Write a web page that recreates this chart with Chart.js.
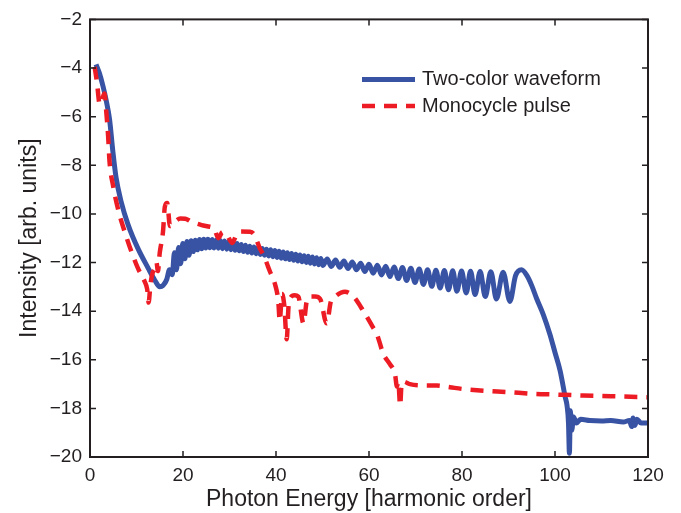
<!DOCTYPE html>
<html>
<head>
<meta charset="utf-8">
<script src="https://cdn.jsdelivr.net/npm/chart.js@4.4.1/dist/chart.umd.min.js"></script>
<style>
  html, body { margin: 0; padding: 0; background: #fff; }
  #wrap { width: 681px; height: 513px; position: relative; }
</style>
</head>
<body>
<div id="wrap"><canvas id="hhgChart"></canvas></div>
<script>
// ------ data ------ //
var seriesNames = ['Two-color waveform', 'Monocycle pulse']

var xTicks = [0, 20, 40, 60, 80, 100, 120]
var yTicks = [-20, -18, -16, -14, -12, -10, -8, -6, -4, -2]

// two-color waveform (blue, solid)
var blueX = [1.3, 2.0, 2.8, 3.5, 4.2, 4.9, 5.6, 6.7, 8.2, 10.3, 12.5, 14.0, 15.0, 15.7, 16.5, 17.1,
	17.7, 18.15, 18.6, 19.05, 19.5, 19.95, 20.4, 20.85, 21.3, 21.75, 22.2, 22.65, 23.1, 23.55, 24.0, 24.45,
	24.9, 25.35, 25.8, 26.25, 26.7, 27.15, 27.6, 28.05, 28.5, 28.95, 29.4, 29.85, 30.3, 30.75, 31.2, 31.65,
	32.1, 32.55, 33.0, 33.45, 33.9, 34.35, 34.8, 35.25, 35.7, 36.15, 36.6, 37.05, 37.5, 37.95, 38.4, 38.85,
	39.3, 39.75, 40.2, 40.65, 41.1, 41.55, 42.0, 42.45, 42.9, 43.35, 43.8, 44.25, 44.7, 45.15, 45.6, 46.05,
	46.5, 46.95, 47.4, 47.85, 48.3, 48.75, 49.2, 49.65, 50.1,
	51.0, 51.9, 52.8, 53.7, 54.6, 55.5, 56.4, 57.3, 58.2, 59.1, 60.0,
	60.9, 61.8, 62.7, 63.6, 64.5, 65.4, 66.3, 67.2, 68.1, 69.0, 69.9, 70.8, 71.7, 72.6, 73.5, 74.4,
	75.3, 76.2, 77.1, 78.0, 78.9, 79.9, 80.9, 81.85, 82.8, 83.9, 85.0, 86.2, 87.4, 88.85, 90.3, 91.5,
	92.8, 94.0, 95.0, 96.0, 97.5, 98.9, 100.0, 101.1, 102.2, 102.6, 102.9, 103.1, 103.3, 103.6, 104.0, 104.6,
	105.5, 107.5, 110.0, 112.0, 114.7, 116.0, 116.5, 116.8, 117.2, 117.6, 118.5, 120.0]
var blueY = [-3.85, -4.2, -4.75, -5.35, -6.1, -7.4, -8.5, -9.5, -10.45, -11.42, -12.23, -12.75, -13.0, -12.95, -12.7, -12.3,
	-12.5, -11.6, -12.3, -11.38, -12.05, -11.22, -11.85, -11.14, -11.7, -11.1, -11.55, -11.08, -11.48, -11.05, -11.43, -11.04,
	-11.4, -11.04, -11.39, -11.05, -11.4, -11.07, -11.41, -11.09, -11.43, -11.12, -11.45, -11.15, -11.47, -11.18, -11.5, -11.22,
	-11.52, -11.26, -11.55, -11.29, -11.58, -11.33, -11.61, -11.36, -11.64, -11.39, -11.67, -11.42, -11.7, -11.45, -11.73, -11.48,
	-11.76, -11.51, -11.79, -11.54, -11.82, -11.57, -11.85, -11.6, -11.88, -11.63, -11.91, -11.66, -11.94, -11.69, -11.97, -11.72,
	-12.0, -11.74, -12.03, -11.77, -12.06, -11.8, -12.09, -11.83, -12.12,
	-11.86, -12.16, -11.9, -12.2, -11.94, -12.25, -11.98, -12.3, -12.03, -12.37, -12.07,
	-12.44, -12.11, -12.51, -12.15, -12.58, -12.18, -12.66, -12.21, -12.74, -12.24, -12.82, -12.27, -12.9, -12.3, -12.98, -12.32,
	-13.05, -12.33, -13.12, -12.34, -13.18, -12.35, -13.25, -12.36, -13.32, -12.37, -13.4, -12.38, -13.5, -12.4, -13.6, -12.55,
	-12.3, -12.55, -12.95, -13.46, -14.15, -14.95, -15.7, -16.45, -17.54, -17.9, -18.6, -19.85, -18.1, -18.9, -18.35, -18.6,
	-18.45, -18.5, -18.52, -18.5, -18.56, -18.5, -18.75, -18.4, -18.7, -18.45, -18.6, -18.6]

// monocycle pulse (red, dashed)
var redX = [1.0, 1.5, 2.1, 2.6, 3.1, 3.5, 3.9, 4.2, 4.95, 6.0, 7.45, 8.9, 10.3, 11.75, 12.3, 12.6,
	13.0, 13.5, 13.9, 14.3, 14.6, 15.0, 15.7, 16.1, 16.6, 17.2, 18.2, 19.4, 20.5, 21.9, 24.0, 25.8,
	26.7, 27.6, 28.5, 29.4, 30.6, 31.5, 32.5, 34.4, 35.3, 36.6, 37.3, 38.7, 39.8, 40.5, 40.8, 41.3,
	41.8, 42.3, 42.7, 43.1, 44.0, 44.8, 45.9, 46.6, 47.3, 48.4, 49.5, 50.9, 51.8, 52.7, 54.8, 56.6,
	58.8, 60.9, 61.7, 63.1, 64.5, 65.6, 66.0, 66.3, 66.7, 67.0, 67.4, 68.8, 71.0, 74.6, 77.4, 80.0,
	84.6, 90.0, 95.3, 100.0, 106.0, 112.0, 120.0]
var redY = [-3.95, -4.6, -5.5, -5.3, -5.05, -5.8, -6.8, -7.85, -8.83, -9.78, -10.73, -11.55, -12.23, -12.78, -13.1, -13.65,
	-12.9, -12.4, -12.3, -12.0, -12.35, -11.6, -10.73, -9.7, -9.55, -10.5, -10.33, -10.19, -10.2, -10.33, -10.46, -10.53,
	-10.6, -11.0, -10.75, -10.85, -11.2, -10.85, -10.72, -10.73, -10.85, -11.45, -11.69, -12.37, -12.9, -13.6, -14.4, -13.3,
	-13.8, -15.16, -13.8, -13.45, -13.35, -13.4, -14.5, -13.6, -13.4, -13.4, -13.5, -14.5, -13.6, -13.4, -13.2, -13.39,
	-14.0, -14.68, -14.95, -15.77, -16.18, -16.6, -17.1, -16.9, -17.88, -17.0, -16.9, -17.0, -17.05, -17.06, -17.13, -17.2,
	-17.27, -17.33, -17.4, -17.43, -17.47, -17.5, -17.54]

var blueColor = 'rgb(57,83,164)'
var redColor = 'rgb(237,28,36)'
var inkColor = '#231f20'
var fontFamily = '"Liberation Sans", Arial, Helvetica, sans-serif'

function toPoints(xs, ys) {
	return xs.map(function (x, i) { return { x: x, y: ys[i] } })
}

function minusLabel(v) {
	return v < 0 ? '\u2212' + Math.abs(v) : '' + v
}

// box round the plot with matlab style inward ticks
var boxPlugin = {
	id: 'boxTicks',
	afterDatasetsDraw: function (chart) {
		var ctx = chart.ctx
		var a = chart.chartArea
		var xs = chart.scales.x, ys = chart.scales.y
		var len = 6
		ctx.save()
		ctx.strokeStyle = inkColor
		ctx.lineWidth = 1.5
		ctx.beginPath()
		xTicks.forEach(function (t) {
			var px = xs.getPixelForValue(t)
			ctx.moveTo(px, a.bottom); ctx.lineTo(px, a.bottom - len)
			ctx.moveTo(px, a.top); ctx.lineTo(px, a.top + len)
		})
		yTicks.forEach(function (t) {
			var py = ys.getPixelForValue(t)
			ctx.moveTo(a.left, py); ctx.lineTo(a.left + len, py)
			ctx.moveTo(a.right, py); ctx.lineTo(a.right - len, py)
		})
		ctx.stroke()
		ctx.lineWidth = 2
		ctx.strokeRect(a.left, a.top, a.right - a.left, a.bottom - a.top)
		ctx.restore()
	}
}

// legend in the upper right corner, no frame
var legendPlugin = {
	id: 'cornerLegend',
	afterDatasetsDraw: function (chart) {
		var ctx = chart.ctx
		var a = chart.chartArea
		var x0 = a.right - 286, lineLen = 53, y0 = a.top + 60, rowGap = 26.7
		ctx.save()
		chart.data.datasets.forEach(function (ds, i) {
			var y = y0 + i * rowGap
			ctx.strokeStyle = ds.borderColor
			ctx.lineWidth = ds.borderWidth
			ctx.setLineDash(ds.borderDash || [])
			ctx.beginPath()
			ctx.moveTo(x0, y); ctx.lineTo(x0 + lineLen, y)
			ctx.stroke()
			ctx.setLineDash([])
			ctx.fillStyle = inkColor
			ctx.font = '20px ' + fontFamily
			ctx.textBaseline = 'middle'
			ctx.fillText(ds.label, x0 + lineLen + 7, y + 0.5)
		})
		ctx.restore()
	}
}

var ctx = document.getElementById('hhgChart')
var data = {
	datasets: [{
		label: seriesNames[0],
		data: toPoints(blueX, blueY),
		borderColor: blueColor,
		borderWidth: 5,
		pointRadius: 0,
		fill: false,
		cubicInterpolationMode: 'monotone',
		order: 1
	}, {
		label: seriesNames[1],
		data: toPoints(redX, redY),
		borderColor: redColor,
		borderWidth: 4.5,
		borderDash: [13, 9],
		pointRadius: 0,
		fill: false,
		cubicInterpolationMode: 'monotone',
		order: 0
	}]
}

var myChart = new Chart(ctx, {
	type: 'line',
	data: data,
	options: {
		responsive: true,
		maintainAspectRatio: false,
		animation: false,
		layout: { padding: { left: 0, top: 16, right: 33, bottom: 0 } },
		plugins: {
			legend: { display: false },
			tooltip: { enabled: false }
		},
		scales: {
			x: {
				type: 'linear',
				min: 0,
				max: 120,
				afterFit: function (s) { s.height = 56 },
				afterBuildTicks: function (s) { s.ticks = xTicks.map(function (v) { return { value: v } }) },
				grid: { display: false, drawTicks: false },
				border: { display: false },
				ticks: {
					padding: 7,
					color: inkColor,
					font: { family: fontFamily, size: 19 },
					maxRotation: 0,
					callback: minusLabel
				},
				title: {
					display: true,
					text: 'Photon Energy [harmonic order]',
					color: inkColor,
					font: { family: fontFamily, size: 23 },
					padding: { top: 0, bottom: 0 }
				}
			},
			y: {
				type: 'linear',
				min: -20,
				max: -2,
				afterFit: function (s) { s.width = 90 },
				afterBuildTicks: function (s) { s.ticks = yTicks.map(function (v) { return { value: v } }) },
				grid: { display: false, drawTicks: false },
				border: { display: false },
				ticks: {
					padding: 8,
					color: inkColor,
					font: { family: fontFamily, size: 19 },
					callback: minusLabel
				},
				title: {
					display: true,
					text: 'Intensity [arb. units]',
					color: inkColor,
					font: { family: fontFamily, size: 23 },
					padding: { top: 16, bottom: 0 }
				}
			}
		}
	},
	plugins: [boxPlugin, legendPlugin]
})
</script>
</body>
</html>
